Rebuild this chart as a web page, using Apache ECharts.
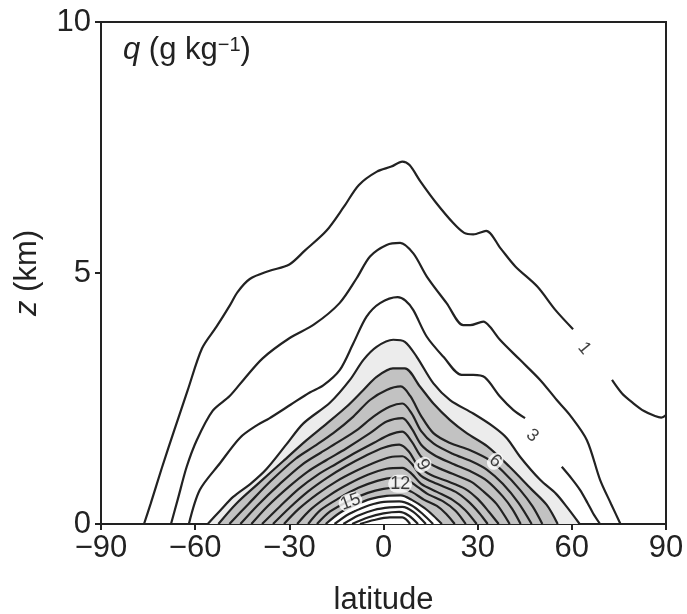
<!DOCTYPE html>
<html><head><meta charset="utf-8">
<script src="https://cdn.jsdelivr.net/npm/echarts@6/dist/echarts.min.js"></script>
<style>html,body{margin:0;padding:0;background:#fff}#c{width:687px;height:614px}</style>
</head><body><div id="c"></div>
<script>
// ---- data (latitude, height km) ----
const xTicks = [-90, -60, -30, 0, 30, 60, 90];
const yTicks = [0, 5, 10];

const contour1a = [[-76.3,0],[-74.2,0.4],[-70.7,1.1],[-66.6,1.88],[-62.4,2.66],[-57.8,3.5],[-53.2,3.93],[-48.9,4.36],[-46.5,4.62],[-42.6,4.88],[-36.5,5.04],[-30,5.17],[-25,5.45],[-18.2,5.84],[-12.6,6.32],[-7.9,6.75],[-2.1,7.02],[2.5,7.12],[6,7.22],[8.3,7.15],[11.8,6.82],[16.5,6.42],[22.3,5.99],[25.7,5.8],[28.6,5.77],[32.7,5.84],[37.3,5.49],[42,5.13],[49,4.73],[54.8,4.26],[60.4,3.88]];
const contour1b = [[72.8,2.87],[76,2.6],[79.5,2.41],[83,2.25],[86.5,2.15],[88.5,2.12],[90,2.17]];
const contour2 = [[-67.7,0],[-65.5,0.5],[-62.7,1.14],[-59.5,1.67],[-54.5,2.25],[-49,2.55],[-44.5,2.88],[-38.5,3.3],[-30,3.7],[-22,3.98],[-14,4.4],[-8.5,4.9],[-4.3,5.33],[1,5.56],[5.3,5.6],[9.5,5.39],[13.8,4.93],[20.1,4.4],[25.4,3.96],[27.6,3.96],[31.8,4.03],[33.9,3.93],[37.1,3.67],[43.5,3.27],[49.9,2.87],[55.2,2.47],[59.4,2.17],[64.8,1.67],[69,0.88],[72.5,0.4],[75.5,0]];
const contour3a = [[-62,0],[-58.5,0.68],[-52.1,1.21],[-45.7,1.72],[-40,1.98],[-36.5,2.1],[-29.5,2.38],[-23.5,2.62],[-19.2,2.76],[-13.9,3.07],[-9.6,3.6],[-5.4,4.13],[-1.1,4.4],[4.5,4.52],[7,4.45],[9.5,4.26],[13.8,3.73],[19.1,3.33],[24.9,2.97],[28.6,2.97],[32.3,2.92],[37.1,2.54],[41.4,2.27],[45.1,2.11]];
const contour3b = [[56.8,1.14],[60,0.9],[62.6,0.68],[65,0.42],[66.8,0.21],[69,0]];
const contour4 = [[-56,0],[-52,0.27],[-47.9,0.54],[-42,0.82],[-37.2,1.1],[-31,1.58],[-25.6,2.0],[-17,2.42],[-10.7,2.87],[-6.4,3.27],[-2.2,3.53],[3.1,3.67],[6.8,3.63],[10.6,3.33],[15.9,2.8],[21.2,2.47],[28.6,2.2],[35,1.94],[39.3,1.71],[43.5,1.34],[49.9,0.88],[55,0.6],[58.4,0.34],[62.5,0]];
const contour5 = [[-52.6,0],[-47,0.4],[-40,0.8],[-32,1.25],[-24.5,1.67],[-18.1,2.0],[-11.7,2.34],[-6.4,2.67],[-2.2,2.93],[3,3.1],[6.8,3.1],[11.6,2.74],[15.9,2.4],[21.2,2.07],[26.5,1.81],[33,1.55],[40,1.15],[47,0.7],[52,0.38],[55.5,0]];
const contour6 = [[-49.1,0],[-43,0.4],[-36,0.85],[-28,1.3],[-22,1.55],[-16,1.81],[-9.6,2.14],[-4.3,2.47],[1,2.67],[5.5,2.74],[8.5,2.55],[12,2.15],[15.9,1.81],[21,1.62],[27.6,1.47],[33.9,1.27],[38,1.05],[43.5,0.68],[47.5,0.35],[50.6,0]];
const contour7 = [[-45.6,0],[-40,0.38],[-33,0.8],[-26,1.18],[-20,1.42],[-14,1.65],[-8.5,1.87],[-3.2,2.14],[2.1,2.34],[6,2.4],[9,2.2],[12,1.85],[16,1.6],[22,1.4],[28,1.25],[33,1.08],[38,0.8],[43,0.42],[47.2,0]];
const contour8 = [[-42.1,0],[-37,0.35],[-30,0.75],[-24,1.05],[-18,1.28],[-12,1.5],[-4.3,1.81],[1,2.04],[6,2.11],[9,1.9],[12,1.58],[16,1.38],[22,1.2],[28,1.04],[33,0.86],[38,0.55],[41,0.3],[43.7,0]];
const contour9 = [[-38.7,0],[-33,0.35],[-27,0.7],[-21,0.98],[-15,1.2],[-9,1.42],[-3,1.62],[2,1.78],[6,1.84],[9,1.64],[12,1.34],[16,1.16],[22,1.0],[28,0.84],[32,0.64],[36,0.4],[40.2,0]];
const contour10 = [[-35.2,0],[-30,0.32],[-24,0.65],[-18,0.92],[-12,1.15],[-6,1.35],[0,1.52],[5,1.58],[8,1.45],[11,1.16],[15,0.98],[20,0.86],[26,0.7],[30,0.5],[33.5,0.25],[36.7,0]];
const contour11 = [[-31.7,0],[-27,0.3],[-21,0.6],[-15,0.85],[-9,1.05],[-3,1.22],[2,1.33],[6,1.35],[9,1.2],[12,0.96],[17,0.8],[23,0.64],[27,0.45],[30.5,0.22],[33.2,0]];
const contour12 = [[-27.5,0],[-23,0.3],[-17,0.58],[-11,0.8],[-5,0.98],[1,1.1],[6,1.12],[9,1.0],[12,0.8],[17,0.64],[22,0.48],[26,0.28],[29.7,0]];
const contour13 = [[-24,0],[-20,0.28],[-14,0.52],[-8,0.72],[-2,0.86],[3,0.92],[7,0.9],[10,0.78],[14,0.6],[19,0.45],[23,0.26],[26.2,0]];
const contour14 = [[-21.2,0],[-17,0.25],[-11,0.46],[-5,0.62],[0,0.7],[5,0.73],[9,0.64],[13,0.48],[17,0.36],[20,0.2],[22.7,0]];
const contour15 = [[-18.4,0],[-14,0.22],[-9,0.38],[-4,0.5],[1,0.56],[5.5,0.57],[9,0.48],[13,0.32],[16,0.16],[18.6,0]];
const contour16 = [[-15.6,0],[-11,0.2],[-6,0.34],[-1,0.43],[5,0.45],[9,0.37],[12.5,0.2],[15.8,0]];
const contour17 = [[-12.8,0],[-8,0.17],[-3,0.28],[2,0.33],[6,0.34],[9.5,0.24],[13.5,0]];
const contour18 = [[-10,0],[-5,0.13],[0,0.21],[5,0.24],[8,0.17],[11,0]];
const contour19 = [[-7.5,0],[-3,0.08],[2,0.13],[6,0.13],[8.5,0]];

const contourLabels = [[64,3.5,'1'],[47.4,1.76,'3'],[35.6,1.25,'6'],[12.5,1.18,'9'],[5.3,0.8,'12'],[-10.5,0.44,'15']];

// ---- styles ----
const labelAngles = [-50, -40, -40, -60, 0, 20];
const FONT = '"Liberation Sans", Arial, Helvetica, sans-serif';
const INK = '#222';

const allLines = [contour1a, contour1b, contour2, contour3a, contour3b, contour4, contour5, contour6,
  contour7, contour8, contour9, contour10, contour11, contour12, contour13, contour14,
  contour15, contour16, contour17, contour18, contour19];

const series = [];
function fill(data, color, z) {
  series.push({type: 'line', data, smooth: 0.3, showSymbol: false, silent: true, z,
    lineStyle: {width: 0, opacity: 0}, areaStyle: {color, opacity: 1, origin: 'start'}});
}
fill(contour4, '#ececec', 1);
fill(contour5, '#c2c2c2', 2);
fill(contour15, '#ffffff', 3);
allLines.forEach(d => {
  series.push({type: 'line', data: d, smooth: 0.3, showSymbol: false, silent: true, z: 5,
    lineStyle: {color: INK, width: 2.2}});
});
series.push({type: 'scatter', z: 10, symbol: 'circle', symbolSize: 2, silent: true,
  itemStyle: {color: 'rgba(0,0,0,0)'},
  data: contourLabels.map((l, i) => ({value: l, label: {rotate: labelAngles[i]}})),
  label: {show: true, position: 'inside', formatter: p => p.value[2], fontSize: 18,
    fontFamily: FONT, color: '#111', backgroundColor: '#fff', padding: [0, 2], borderRadius: 9}});

const fmt = v => (v < 0 ? '\u2212' + Math.abs(v) : String(v));
const chart = echarts.init(document.getElementById('c'), null, {renderer: 'canvas'});
chart.setOption({
  animation: false,
  backgroundColor: '#fff',
  title: {
    text: '{i|q} (g kg{s|\u22121})', left: 118, top: 30,
    textStyle: {fontSize: 31, fontWeight: 'normal', color: INK, fontFamily: FONT,
      rich: {i: {fontStyle: 'italic', fontSize: 31, fontFamily: FONT, color: INK},
             s: {fontSize: 20, verticalAlign: 'top', fontFamily: FONT, color: INK}}}
  },
  grid: {left: 101, right: 21, top: 22, bottom: 90, containLabel: false, outerBoundsMode: 'none',
    show: true, borderColor: INK, borderWidth: 2, backgroundColor: 'transparent'},
  xAxis: {
    type: 'value', min: xTicks[0], max: xTicks[xTicks.length - 1], interval: 30,
    name: 'latitude', nameLocation: 'middle', nameGap: 61,
    nameTextStyle: {fontSize: 31, color: INK, fontFamily: FONT},
    axisLine: {onZero: false, lineStyle: {color: INK, width: 2}},
    axisTick: {show: true, inside: false, length: 6, lineStyle: {color: INK, width: 2}},
    axisLabel: {fontSize: 31, color: INK, fontFamily: FONT, margin: 9, formatter: fmt},
    splitLine: {show: false}
  },
  yAxis: {
    type: 'value', min: yTicks[0], max: yTicks[yTicks.length - 1], interval: 5,
    name: '{i|z} (km)', nameLocation: 'middle', nameGap: 58,
    nameTextStyle: {fontSize: 31, color: INK, fontFamily: FONT,
      rich: {i: {fontStyle: 'italic', fontSize: 31, fontFamily: FONT, color: INK}}},
    axisLine: {onZero: false, lineStyle: {color: INK, width: 2}},
    axisTick: {show: true, inside: false, length: 6, lineStyle: {color: INK, width: 2}},
    axisLabel: {fontSize: 31, color: INK, fontFamily: FONT, margin: 10, formatter: fmt},
    splitLine: {show: false}
  },
  series
});
</script></body></html>
